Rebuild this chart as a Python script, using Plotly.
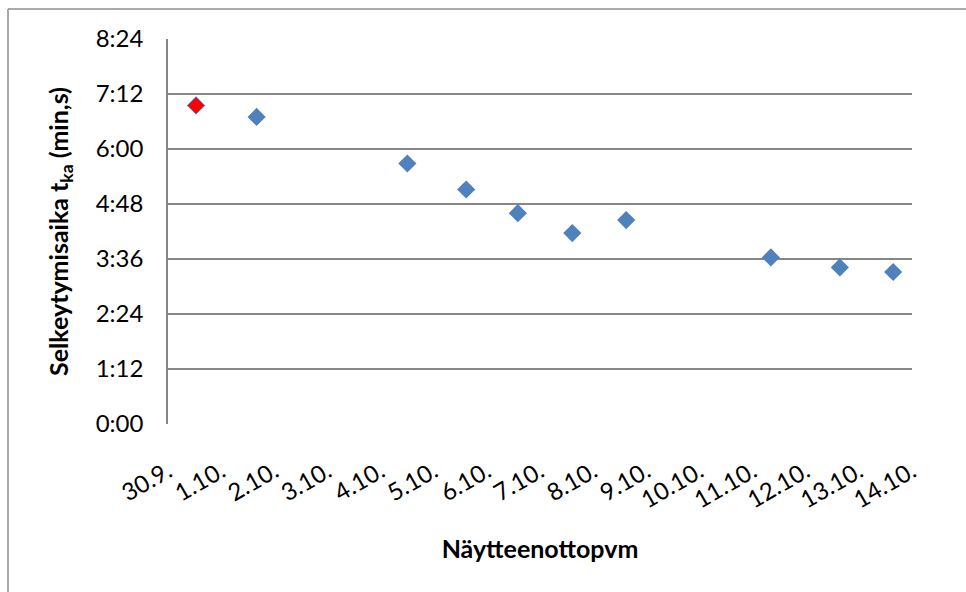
import plotly.graph_objects as go

# Sampling times (date + time of day) and settling times in seconds
sample_times = [
    "2011-09-30 12:40", "2011-10-01 16:00", "2011-10-04 12:05", "2011-10-05 14:40",
    "2011-10-06 14:00", "2011-10-07 14:35", "2011-10-08 14:55", "2011-10-11 08:15",
    "2011-10-12 15:25", "2011-10-13 15:30",
]
settle_seconds = [417, 402, 341, 307, 276, 250, 267, 218, 205, 199]

# Highlighted (first) sample
red_times = ["2011-09-30 12:40"]
red_seconds = [417]

x_tick_vals = [
    "2011-09-30", "2011-10-01", "2011-10-02", "2011-10-03", "2011-10-04",
    "2011-10-05", "2011-10-06", "2011-10-07", "2011-10-08", "2011-10-09",
    "2011-10-10", "2011-10-11", "2011-10-12", "2011-10-13", "2011-10-14",
]
x_tick_text = [
    "30.9.", "1.10.", "2.10.", "3.10.", "4.10.", "5.10.", "6.10.", "7.10.",
    "8.10.", "9.10.", "10.10.", "11.10.", "12.10.", "13.10.", "14.10.",
]
y_tick_vals = [0, 72, 144, 216, 288, 360, 432, 504]
y_tick_text = ["0:00", "1:12", "2:24", "3:36", "4:48", "6:00", "7:12", "8:24"]

FONT = "Lato"
BLUE = "#4F81BD"
GRID = "#868686"

fig = go.Figure()
fig.add_trace(go.Scatter(
    x=sample_times, y=settle_seconds, mode="markers",
    marker=dict(symbol="diamond", size=14, color=BLUE, line=dict(width=0)),
    showlegend=False, cliponaxis=False,
))
fig.add_trace(go.Scatter(
    x=red_times, y=red_seconds, mode="markers",
    marker=dict(symbol="diamond", size=13, color="#FF0000",
                line=dict(width=1, color=BLUE)),
    showlegend=False, cliponaxis=False,
))

W, H = 966, 592
L, R, T, B = 168, 54, 39, 168
pw, ph = W - L - R, H - T - B

fig.update_layout(
    width=W, height=H,
    margin=dict(l=L, r=R, t=T, b=B, pad=0),
    paper_bgcolor="white", plot_bgcolor="white",
    font=dict(family=FONT, color="black"),
    xaxis=dict(
        type="date",
        range=["2011-09-30", "2011-10-14"],
        tickvals=x_tick_vals, ticktext=x_tick_text,
        tickangle=-30, tickfont=dict(size=24, family=FONT),
        showgrid=False, zeroline=False, showline=False,
        ticks="", ticklen=0, ticklabelstandoff=28,
        title=dict(text="<b>Näytteenottopvm</b>", font=dict(size=25, family=FONT),
                   standoff=28),
    ),
    yaxis=dict(
        range=[0, 504],
        tickvals=y_tick_vals, ticktext=y_tick_text,
        tickfont=dict(size=24, family=FONT),
        showgrid=True, gridcolor=GRID, gridwidth=1.5,
        zeroline=False, showline=True, linecolor=GRID, linewidth=1.5,
        ticks="", ticklabelstandoff=18,
        title=dict(text="<b>Selkeytymisaika t<sub>ka</sub> (min,s)</b>",
                   font=dict(size=25, family=FONT), standoff=20),
    ),
)

# outer chart frame (top and left edges visible in the reference)
fx0 = (8 - L) / pw
fy0 = 1 + (T - 9) / ph
fig.add_shape(type="line", xref="paper", yref="paper",
              x0=fx0, y0=fy0, x1=(W + 5 - L) / pw, y1=fy0,
              line=dict(color="#8C8C8C", width=1.5))
fig.add_shape(type="line", xref="paper", yref="paper",
              x0=fx0, y0=fy0, x1=fx0, y1=-(B + 5) / ph,
              line=dict(color="#8C8C8C", width=1.5))

fig.write_html("out.html")
